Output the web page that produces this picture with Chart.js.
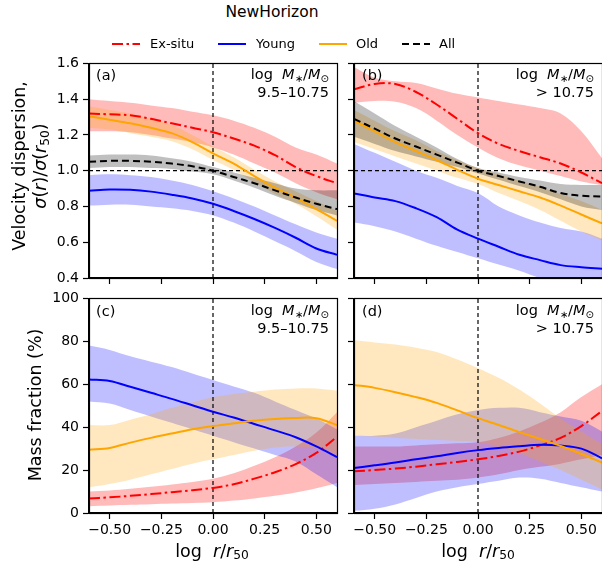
<!DOCTYPE html>
<html><head><meta charset="utf-8">
<script src="https://cdn.jsdelivr.net/npm/chart.js@4.4.1/dist/chart.umd.min.js"></script>
<style>
html,body{margin:0;padding:0;background:#fff;width:602px;height:568px;overflow:hidden;position:relative;font-family:"DejaVu Sans",sans-serif;color:#000}
canvas{position:absolute}
.t{position:absolute;white-space:nowrap;line-height:1.2}
.c{transform:translate(-50%,-50%)}
.r{transform:translate(-100%,-50%)}
.l{transform:translate(0,-50%)}
.rot{transform:translate(-50%,-50%) rotate(-90deg);text-align:center}
sub{font-size:0.7em;vertical-align:-0.22em;line-height:0}
.leg{position:absolute}
</style></head><body>
<script>
// ---------- data ----------
const X = [-0.6,-0.5,-0.4,-0.3,-0.2,-0.1,0,0.1,0.2,0.3,0.4,0.5,0.6];
const xTicks = [-0.5,-0.25,0,0.25,0.5];
const yTicksSigma = [0.4,0.6,0.8,1.0,1.2,1.4,1.6];
const yTicksFrac = [0,20,40,60,80,100];
const seriesNames = ["Ex-situ","Young","Old","All"];

// panel (a) sigma, 9.5-10.75
const aExMid  = [1.32,1.315,1.31,1.29,1.265,1.24,1.215,1.18,1.14,1.087,1.02,0.97,0.93];
const aExHi   = [1.40,1.39,1.38,1.365,1.35,1.33,1.31,1.28,1.24,1.19,1.13,1.09,1.04];
const aExLo   = [1.22,1.22,1.215,1.20,1.18,1.16,1.13,1.09,1.04,0.99,0.93,0.88,0.84];
const aYgMid  = [0.888,0.895,0.893,0.883,0.866,0.845,0.815,0.775,0.73,0.68,0.625,0.565,0.53];
const aYgHi   = [0.975,0.98,0.975,0.965,0.945,0.92,0.885,0.845,0.80,0.75,0.70,0.655,0.62];
const aYgLo   = [0.805,0.81,0.81,0.80,0.79,0.775,0.75,0.71,0.66,0.605,0.55,0.49,0.45];
const aOldMid = [1.305,1.285,1.265,1.24,1.21,1.16,1.097,1.04,0.97,0.905,0.85,0.785,0.72];
const aOldHi  = [1.36,1.34,1.32,1.29,1.255,1.20,1.135,1.075,1.005,0.94,0.885,0.83,0.775];
const aOldLo  = [1.24,1.23,1.21,1.19,1.165,1.12,1.06,1.005,0.935,0.87,0.815,0.745,0.67];
const aAllMid = [1.05,1.055,1.055,1.05,1.04,1.025,1.0,0.965,0.93,0.89,0.85,0.815,0.785];
const aAllHi  = [1.085,1.09,1.09,1.085,1.07,1.05,1.02,0.99,0.96,0.93,0.90,0.89,0.89];
const aAllLo  = [1.015,1.02,1.02,1.015,1.01,0.995,0.98,0.945,0.905,0.86,0.82,0.78,0.75];

// panel (b) sigma, > 10.75
const bExMid  = [1.455,1.485,1.485,1.44,1.37,1.29,1.21,1.15,1.11,1.075,1.04,0.99,0.93];
const bExHi   = [1.58,1.52,1.50,1.49,1.46,1.43,1.41,1.39,1.37,1.35,1.32,1.22,1.07];
const bExLo   = [1.38,1.39,1.385,1.35,1.28,1.20,1.13,1.07,1.03,1.0,0.97,0.94,0.92];
const bYgMid  = [0.873,0.85,0.83,0.79,0.74,0.67,0.62,0.575,0.53,0.50,0.472,0.46,0.452];
const bYgHi   = [1.15,1.10,1.05,1.0,0.96,0.915,0.875,0.80,0.75,0.71,0.68,0.66,0.62];
const bYgLo   = [0.71,0.69,0.66,0.62,0.58,0.545,0.51,0.475,0.44,0.40,0.37,0.34,0.31];
const bOldMid = [1.28,1.22,1.16,1.11,1.06,1.005,0.955,0.92,0.885,0.85,0.805,0.755,0.705];
const bOldHi  = [1.34,1.28,1.22,1.17,1.11,1.06,1.015,0.98,0.945,0.91,0.87,0.83,0.78];
const bOldLo  = [1.16,1.12,1.08,1.04,1.0,0.96,0.925,0.875,0.83,0.78,0.72,0.66,0.61];
const bAllMid = [1.29,1.235,1.18,1.135,1.09,1.045,1.0,0.97,0.94,0.91,0.875,0.86,0.855];
const bAllHi  = [1.39,1.32,1.25,1.19,1.13,1.065,1.015,0.99,0.965,0.945,0.925,0.92,0.92];
const bAllLo  = [1.19,1.15,1.11,1.08,1.05,1.02,0.985,0.95,0.915,0.88,0.84,0.80,0.78];

// panel (c) mass fraction, 9.5-10.75
const cExMid  = [6.8,7.3,8,8.8,9.7,10.6,11.7,13.4,16,19,22.8,28,35.5];
const cExHi   = [10,10.5,11.3,12.2,13.3,14.5,16,18.5,22,26,31,37.5,47];
const cExLo   = [3.2,3.5,3.8,4.1,4.4,4.7,5.0,5.8,6.8,8,9.5,11.5,14];
const cYgMid  = [62.2,61.5,58.8,56,53.2,50.2,47.2,44.5,41.5,38.5,35.3,31,26];
const cYgHi   = [78,76,73,70.5,68,65,62,59,56,52,48,44,39];
const cYgLo   = [52,51,48,45,42,39,36,33,30,27,24,18,12];
const cOldMid = [29.5,30.3,32.8,35,37,39,40.5,41.8,43,43.8,44.3,44.2,41];
const cOldHi  = [41,41,43.5,46,49,51.5,54,55.5,56.5,57.5,58,58,57];
const cOldLo  = [12,13.5,15.5,18,20.5,23,25,27,29,30.5,31,30,27];

// panel (d) mass fraction, > 10.75
const dExMid  = [19.4,20,20.7,21.6,22.7,23.8,25,26.6,28.6,31.5,35,40.5,47.5];
const dExHi   = [31,31,31,31.5,32,32.5,33,35,38,42,47,54,60];
const dExLo   = [13,13.5,14,14.5,15,15.5,16.5,18,20,21.5,23,25,27];
const dYgMid  = [21,22.2,23.5,25,26.4,28,29.3,30.3,31.1,31.8,31.4,30,25.5];
const dYgHi   = [36,36,37,40,43,46,48,49,49,47,45,43,38];
const dYgLo   = [1,2,4,7,10,12,13.5,15,16.5,16,14,12,10];
const dOldMid = [59.7,58.3,56.3,54,51.3,47.8,44.2,41,37.7,34.5,31.2,27.5,23.5];
const dOldHi  = [80.5,79.5,78.5,77,75,71.5,67.5,63,57.5,51,44,38,32];
const dOldLo  = [36,35.5,35,34.5,34,33.5,33,31,28,24,20,15.5,11];

// ---------- styles ----------
const COL = {ex:'#ff0000', yg:'#0000ff', old:'#ffa500', all:'#000000'};
const BAND = {ex:'rgba(255,0,0,0.27)', yg:'rgba(0,0,255,0.25)', old:'rgba(255,165,0,0.25)', all:'rgba(0,0,0,0.25)'};
const DASH = {ex:[11,3.5,2.5,3.5], yg:[], old:[], all:[7,4]};

const PW=248, PH=215, YW=70, PADT=12, PADR=10, XH=40;
const FONT='"DejaVu Sans", sans-serif';
const TENSION=0.35;

const pts = arr => arr.map((v,i)=>({x:X[i], y:v}));

const boxPlugin = {id:'box', afterDraw(ch){
  const a=ch.chartArea, c=ch.ctx; c.save(); c.strokeStyle='#000'; c.lineWidth=1.2;
  c.strokeRect(Math.round(a.left)+0.5, Math.round(a.top)+0.5, Math.round(a.right-a.left), Math.round(a.bottom-a.top));
  c.restore();
}};

function makePanel(plotLeft, plotTop, cfg){
  const cv=document.createElement('canvas');
  cv.width=YW+PW+PADR; cv.height=PADT+PH+XH;
  cv.style.left=(plotLeft-YW)+'px'; cv.style.top=(plotTop-PADT)+'px';
  cv.style.width=cv.width+'px'; cv.style.height=cv.height+'px';
  document.body.appendChild(cv);
  const ds=[];
  const bandOrder={ex:100, yg:90, old:80, all:70};
  const lineOrder={ex:4, yg:3, old:2, all:1};
  cfg.series.forEach(s=>{
    ds.push({data:pts(s.lo), borderWidth:0, pointRadius:0, fill:false, order:bandOrder[s.k], tension:TENSION});
    ds.push({data:pts(s.hi), borderWidth:0, pointRadius:0, fill:'-1', backgroundColor:BAND[s.k], order:bandOrder[s.k], tension:TENSION});
  });
  // reference lines
  ds.push({data:[{x:0,y:cfg.yMin},{x:0,y:cfg.yMax}], borderColor:'#000', borderWidth:1.2, borderDash:[4,3], pointRadius:0, fill:false, order:6});
  if(cfg.refY!==undefined){
    ds.push({data:[{x:-0.6,y:cfg.refY},{x:0.6,y:cfg.refY}], borderColor:'#000', borderWidth:1.2, borderDash:[4,3], pointRadius:0, fill:false, order:6});
  }
  cfg.series.forEach(s=>{
    ds.push({data:pts(s.mid), borderColor:COL[s.k], borderWidth:2, borderDash:DASH[s.k], pointRadius:0, fill:false, order:lineOrder[s.k], tension:TENSION});
  });
  new Chart(cv.getContext('2d'), {
    type:'line',
    data:{datasets:ds},
    options:{
      responsive:false, animation:false, devicePixelRatio:1,
      layout:{padding:{top:PADT, right:PADR, left:0, bottom:0}},
      plugins:{legend:{display:false}, tooltip:{enabled:false}},
      scales:{
        x:{type:'linear', min:-0.6, max:0.6,
           afterBuildTicks:sc=>{sc.ticks=xTicks.map(v=>({value:v}));},
           afterFit:sc=>{sc.height=XH;},
           ticks:{callback:v=> cfg.xLabels ? ((v<0?'\u2212':'')+Math.abs(v).toFixed(2)) : '',
                  font:{family:FONT, size:14}, color:'#000', padding:3, maxRotation:0, autoSkip:false},
           grid:{drawOnChartArea:false, drawTicks:true, tickLength:6, color:'#000', tickWidth:1.2},
           border:{display:true, color:'#000', width:1.2}},
        y:{type:'linear', min:cfg.yMin, max:cfg.yMax,
           afterBuildTicks:sc=>{sc.ticks=cfg.yTicks.map(v=>({value:v}));},
           afterFit:sc=>{sc.width=YW;},
           ticks:{callback:v=> cfg.yLabels ? cfg.fmt(v) : '',
                  font:{family:FONT, size:14}, color:'#000', padding:4, autoSkip:false},
           grid:{drawOnChartArea:false, drawTicks:true, tickLength:6, color:'#000', tickWidth:1.2},
           border:{display:true, color:'#000', width:1.2}}
      }
    },
    plugins:[boxPlugin]
  });
}

const fmt1 = v=>v.toFixed(1);
const fmt0 = v=>String(Math.round(v));

makePanel(89, 63, {yMin:0.4, yMax:1.6, yTicks:yTicksSigma, fmt:fmt1, yLabels:true, xLabels:false, refY:1.0,
  series:[{k:'ex',mid:aExMid,hi:aExHi,lo:aExLo},{k:'yg',mid:aYgMid,hi:aYgHi,lo:aYgLo},{k:'old',mid:aOldMid,hi:aOldHi,lo:aOldLo},{k:'all',mid:aAllMid,hi:aAllHi,lo:aAllLo}]});
makePanel(354, 63, {yMin:0.4, yMax:1.6, yTicks:yTicksSigma, fmt:fmt1, yLabels:false, xLabels:false, refY:1.0,
  series:[{k:'ex',mid:bExMid,hi:bExHi,lo:bExLo},{k:'yg',mid:bYgMid,hi:bYgHi,lo:bYgLo},{k:'old',mid:bOldMid,hi:bOldHi,lo:bOldLo},{k:'all',mid:bAllMid,hi:bAllHi,lo:bAllLo}]});
makePanel(89, 298, {yMin:0, yMax:100, yTicks:yTicksFrac, fmt:fmt0, yLabels:true, xLabels:true,
  series:[{k:'ex',mid:cExMid,hi:cExHi,lo:cExLo},{k:'yg',mid:cYgMid,hi:cYgHi,lo:cYgLo},{k:'old',mid:cOldMid,hi:cOldHi,lo:cOldLo}]});
makePanel(354, 298, {yMin:0, yMax:100, yTicks:yTicksFrac, fmt:fmt0, yLabels:false, xLabels:true,
  series:[{k:'ex',mid:dExMid,hi:dExHi,lo:dExLo},{k:'yg',mid:dYgMid,hi:dYgHi,lo:dYgLo},{k:'old',mid:dOldMid,hi:dOldHi,lo:dOldLo}]});
</script>

<!-- title -->
<div class="t c" style="left:272px;top:12px;font-size:15.5px">NewHorizon</div>

<!-- legend -->
<svg class="leg" style="left:112px;top:37px" width="28" height="14"><line x1="0" y1="7" x2="28" y2="7" stroke="#ff0000" stroke-width="2" stroke-dasharray="11,3.5,2.5,3.5"/></svg>
<div class="t l" style="left:150px;top:44px;font-size:13px">Ex-situ</div>
<svg class="leg" style="left:218px;top:37px" width="28" height="14"><line x1="0" y1="7" x2="28" y2="7" stroke="#0000ff" stroke-width="2"/></svg>
<div class="t l" style="left:256px;top:44px;font-size:13px">Young</div>
<svg class="leg" style="left:319px;top:37px" width="28" height="14"><line x1="0" y1="7" x2="28" y2="7" stroke="#ffa500" stroke-width="2"/></svg>
<div class="t l" style="left:356px;top:44px;font-size:13px">Old</div>
<svg class="leg" style="left:402px;top:37px" width="28" height="14"><line x1="0" y1="7" x2="28" y2="7" stroke="#000" stroke-width="2" stroke-dasharray="7,4"/></svg>
<div class="t l" style="left:439px;top:44px;font-size:13px">All</div>

<!-- y labels -->
<div class="t rot" style="left:30px;top:166px;font-size:17.5px;line-height:21px">Velocity dispersion,<br><i>σ</i>(<i>r</i>)/<i>σ</i>(<i>r</i><sub>50</sub>)</div>
<div class="t rot" style="left:35px;top:405px;font-size:17.5px">Mass fraction (%)</div>

<!-- x labels -->
<div class="t c" style="left:212px;top:551px;font-size:17.5px">log&nbsp; <i>r</i>/<i>r</i><sub>50</sub></div>
<div class="t c" style="left:478px;top:551px;font-size:17.5px">log&nbsp; <i>r</i>/<i>r</i><sub>50</sub></div>

<!-- panel annotations -->
<div class="t l" style="left:96px;top:76px;font-size:14.5px">(a)</div>
<div class="t r" style="left:329px;top:75px;font-size:14.5px">log&nbsp; <i>M</i><sub>∗</sub>/<i>M</i><sub>⊙</sub></div>
<div class="t r" style="left:329px;top:93px;font-size:14.5px">9.5–10.75</div>

<div class="t l" style="left:362px;top:76px;font-size:14.5px">(b)</div>
<div class="t r" style="left:594px;top:75px;font-size:14.5px">log&nbsp; <i>M</i><sub>∗</sub>/<i>M</i><sub>⊙</sub></div>
<div class="t r" style="left:594px;top:93px;font-size:14.5px">&gt; 10.75</div>

<div class="t l" style="left:96px;top:312px;font-size:14.5px">(c)</div>
<div class="t r" style="left:329px;top:311px;font-size:14.5px">log&nbsp; <i>M</i><sub>∗</sub>/<i>M</i><sub>⊙</sub></div>
<div class="t r" style="left:329px;top:329px;font-size:14.5px">9.5–10.75</div>

<div class="t l" style="left:362px;top:312px;font-size:14.5px">(d)</div>
<div class="t r" style="left:594px;top:311px;font-size:14.5px">log&nbsp; <i>M</i><sub>∗</sub>/<i>M</i><sub>⊙</sub></div>
<div class="t r" style="left:594px;top:329px;font-size:14.5px">&gt; 10.75</div>
</body></html>
